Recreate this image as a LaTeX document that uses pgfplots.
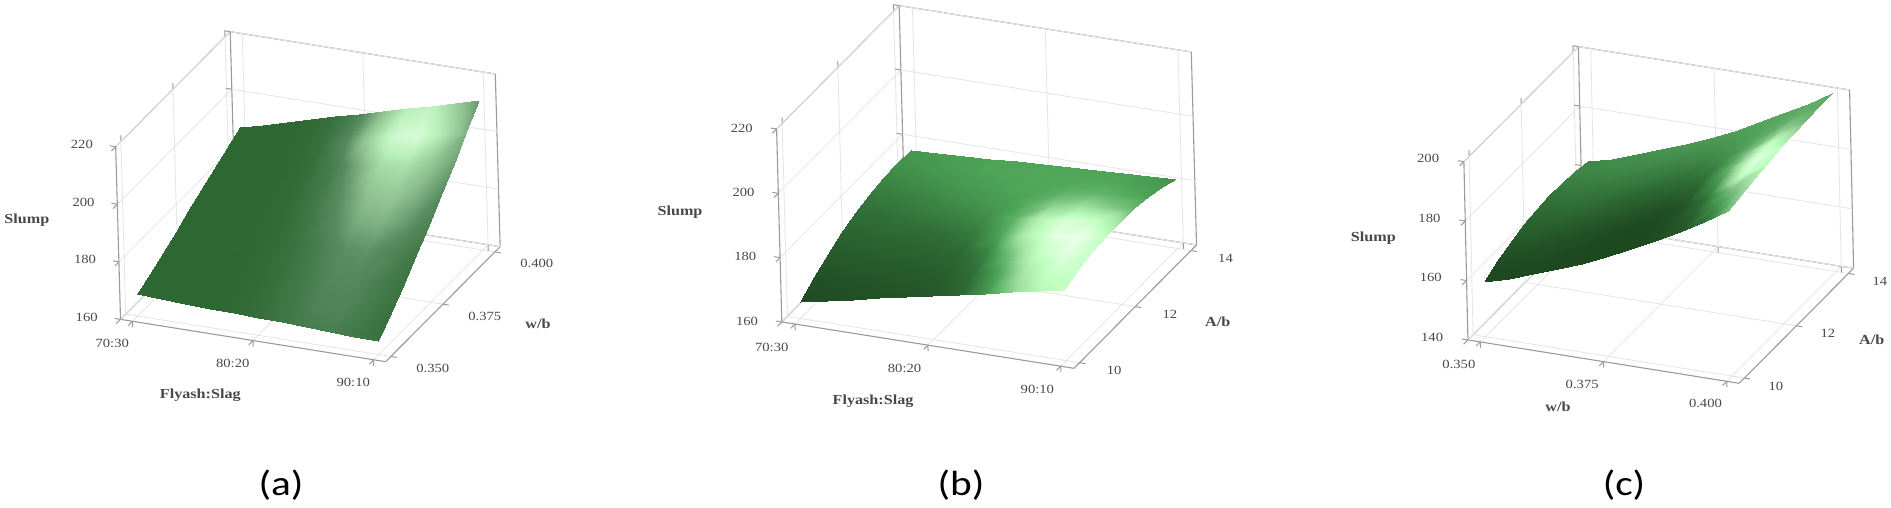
\documentclass[border=0pt]{standalone}
\usepackage{pgfplots}
\usepackage{fontspec}
\pgfplotsset{compat=1.18}
\setmainfont{Liberation Serif}
\newfontfamily\tickf[FakeStretch=1.17]{Liberation Serif}
\newfontfamily\capf[FakeStretch=1.18]{Carlito}
\definecolor{boxc}{HTML}{9A9A9A}
\definecolor{gridc}{HTML}{E6E6E6}
\definecolor{txtc}{HTML}{484848}
\pgfplotsset{
  panel/.style={
    clip=false, grid=major, grid style={gridc,line width=0.9pt},
    axis line style={boxc,line width=1.1pt},
    tick style={boxc,line width=1pt}, major tick length=6pt, tick align=outside,
    xtick pos=left, ytick pos=right, ztick pos=left, yticklabel pos=left,
    ticklabel style={font=\fontsize{12.5}{14}\tickf, text=txtc},
    label style={font=\fontsize{13.8}{15}\tickf\bfseries, text=txtc, anchor=center},
    point meta min=0, point meta max=1,
  },
  surfstyle/.style={surf, shader=interp, mesh/cols=11, point meta=explicit},
}
\begin{document}
\begin{tikzpicture}
\path[use as bounding box] (0,0) rectangle (1891pt,507pt);
% ---------- (a)
\begin{axis}[panel, at={(115.7pt,145.3pt)}, anchor=south west,
  x={(12.05pt,-1.924pt)}, y={(2082pt,2091pt)}, z={(-0.0803pt,2.878pt)},
  xmin=69,xmax=91,ymin=0.3475,ymax=0.4025,zmin=160,zmax=220,
  xtick={70,80,90},xticklabels={70:30,80:20,90:10},
  ytick={0.35,0.375,0.4},yticklabels={0.350,0.375,0.400},
  ztick={160,180,200,220},zticklabels={160,180,200,220},
  x tick label style={xshift=-12pt,yshift=-8pt},
  y tick label style={xshift=23pt,yshift=4pt},
  z tick label style={xshift=-15pt,yshift=11pt},
  xlabel={Flyash:Slag},ylabel={w/b},zlabel={Slump},
  x label style={at={(rel axis cs:0.507,-0.477,0)}},
  y label style={at={(rel axis cs:1.372,0.470,0)}},
  z label style={at={(rel axis cs:-0.339,-0.012,0.5)},rotate=-90},
  colormap={ca}{rgb255(0)=(45,103,50); rgb255(30)=(88,140,96); rgb255(50)=(141,191,144); rgb255(75)=(184,238,184); rgb255(100)=(222,255,222)},
]
\addplot3[surfstyle] table[row sep=\\, x=x,y=y,z=z,meta=m]{
x y z m\\
70 0.35 167.5 0\\72 0.35 167.2 0\\74 0.35 166.9 0\\76 0.35 166.6 0\\78 0.35 166.3 0.02\\80 0.35 166.1 0.06\\82 0.35 165.8 0.12\\84 0.35 165.5 0.19\\86 0.35 165.2 0.20\\88 0.35 164.9 0.14\\90 0.35 164.6 0.08\\
70 0.35625 170.2 0\\72 0.35625 170.2 0\\74 0.35625 170.1 0\\76 0.35625 170.1 0\\78 0.35625 170.0 0.02\\80 0.35625 170.0 0.07\\82 0.35625 170.0 0.15\\84 0.35625 169.9 0.24\\86 0.35625 169.9 0.25\\88 0.35625 169.8 0.18\\90 0.35625 169.8 0.08\\
70 0.3625 172.9 0\\72 0.3625 173.2 0\\74 0.3625 173.4 0\\76 0.3625 173.7 0\\78 0.3625 173.9 0.03\\80 0.3625 174.2 0.08\\82 0.3625 174.4 0.17\\84 0.3625 174.7 0.27\\86 0.3625 174.9 0.28\\88 0.3625 175.2 0.20\\90 0.3625 175.4 0.10\\
70 0.36875 175.6 0\\72 0.36875 176.1 0\\74 0.36875 176.7 0\\76 0.36875 177.2 0.01\\78 0.36875 177.8 0.03\\80 0.36875 178.3 0.10\\82 0.36875 178.8 0.20\\84 0.36875 179.4 0.31\\86 0.36875 179.9 0.33\\88 0.36875 180.5 0.25\\90 0.36875 181.0 0.14\\
70 0.375 178.4 0\\72 0.375 179.3 0\\74 0.375 180.1 0\\76 0.375 181.0 0.01\\78 0.375 181.8 0.04\\80 0.375 182.7 0.13\\82 0.375 183.5 0.28\\84 0.375 184.4 0.43\\86 0.375 185.2 0.45\\88 0.375 186.1 0.36\\90 0.375 186.9 0.22\\
70 0.38125 181.1 0\\72 0.38125 182.3 0\\74 0.38125 183.5 0\\76 0.38125 184.6 0.01\\78 0.38125 185.8 0.05\\80 0.38125 187.0 0.16\\82 0.38125 188.2 0.34\\84 0.38125 189.4 0.52\\86 0.38125 190.5 0.55\\88 0.38125 191.7 0.45\\90 0.38125 192.9 0.30\\
70 0.3875 183.8 0\\72 0.3875 185.3 0\\74 0.3875 186.9 0\\76 0.3875 188.4 0.01\\78 0.3875 189.9 0.06\\80 0.3875 191.5 0.20\\82 0.3875 193.0 0.42\\84 0.3875 194.5 0.65\\86 0.3875 196.0 0.68\\88 0.3875 197.6 0.54\\90 0.3875 199.1 0.38\\
70 0.39375 186.5 0\\72 0.39375 188.4 0\\74 0.39375 190.3 0\\76 0.39375 192.2 0.02\\78 0.39375 194.1 0.09\\80 0.39375 196.0 0.28\\82 0.39375 197.9 0.60\\84 0.39375 199.8 0.90\\86 0.39375 201.7 0.95\\88 0.39375 203.6 0.72\\90 0.39375 205.5 0.45\\
70 0.4 189.2 0\\72 0.4 191.5 0\\74 0.4 193.8 0\\76 0.4 196.1 0.02\\78 0.4 198.4 0.08\\80 0.4 200.7 0.24\\82 0.4 202.9 0.50\\84 0.4 205.2 0.75\\86 0.4 207.5 0.80\\88 0.4 209.8 0.58\\90 0.4 212.1 0.35\\
};
\end{axis}
% ---------- (b)
\begin{axis}[panel, at={(776.6pt,138.7pt)}, anchor=south west,
  x={(13.28pt,-2.106pt)}, y={(27.85pt,28.03pt)}, z={(-0.087pt,3.217pt)},
  xmin=69,xmax=91,ymin=9.8,ymax=14.2,zmin=160,zmax=220,
  xtick={70,80,90},xticklabels={70:30,80:20,90:10},
  ytick={10,12,14},yticklabels={10,12,14},
  ztick={160,180,200,220},zticklabels={160,180,200,220},
  x tick label style={xshift=-15pt,yshift=-9pt},
  y tick label style={xshift=20pt,yshift=3pt},
  z tick label style={xshift=-16pt,yshift=10pt},
  xlabel={Flyash:Slag},ylabel={A/b},zlabel={Slump},
  x label style={at={(rel axis cs:0.504,-0.457,0)}},
  y label style={at={(rel axis cs:1.288,0.486,0)}},
  z label style={at={(rel axis cs:-0.332,-0.018,0.5)},rotate=-90},
  colormap={cb}{rgb255(0)=(31,74,34); rgb255(15)=(47,109,54); rgb255(35)=(78,165,88); rgb255(60)=(159,224,160); rgb255(80)=(192,255,192); rgb255(100)=(236,255,236)},
]
\addplot3[surfstyle] table[row sep=\\, x=x,y=y,z=z,meta=m]{
x y z m\\
70 10 165.1 .00\\72 10 166.8 .01\\74 10 168.5 .02\\76 10 170.2 .03\\78 10 171.9 .04\\80 10 173.6 .06\\82 10 175.2 .12\\84 10 176.9 .30\\86 10 178.6 .55\\88 10 180.3 .75\\90 10 182.0 .82\\
70 10.5 168.4 .03\\72 10.5 169.9 .04\\74 10.5 171.5 .05\\76 10.5 173.0 .06\\78 10.5 174.5 .07\\80 10.5 176.1 .09\\82 10.5 177.6 .15\\84 10.5 179.1 .35\\86 10.5 180.6 .65\\88 10.5 182.2 .85\\90 10.5 183.7 .85\\
70 11 171.2 .07\\72 11 172.6 .08\\74 11 173.9 .09\\76 11 175.3 .10\\78 11 176.7 .11\\80 11 178.1 .13\\82 11 179.4 .22\\84 11 180.8 .50\\86 11 182.2 .82\\88 11 183.5 .95\\90 11 184.9 .85\\
70 11.5 173.5 .11\\72 11.5 174.7 .12\\74 11.5 175.9 .13\\76 11.5 177.1 .14\\78 11.5 178.3 .16\\80 11.5 179.6 .20\\82 11.5 180.8 .35\\84 11.5 182.0 .70\\86 11.5 183.2 .95\\88 11.5 184.4 1.0\\90 11.5 185.6 .80\\
70 12 175.4 .15\\72 12 176.4 .16\\74 12 177.5 .18\\76 12 178.5 .20\\78 12 179.6 .23\\80 12 180.6 .27\\82 12 181.6 .40\\84 12 182.7 .72\\86 12 183.7 .92\\88 12 184.8 .85\\90 12 185.8 .62\\
70 12.5 176.7 .19\\72 12.5 177.6 .21\\74 12.5 178.5 .23\\76 12.5 179.3 .26\\78 12.5 180.2 .29\\80 12.5 181.1 .32\\82 12.5 182.0 .38\\84 12.5 182.9 .52\\86 12.5 183.7 .60\\88 12.5 184.6 .52\\90 12.5 185.5 .42\\
70 13 177.5 .24\\72 13 178.2 .26\\74 13 178.9 .28\\76 13 179.7 .31\\78 13 180.4 .33\\80 13 181.1 .35\\82 13 181.8 .36\\84 13 182.5 .40\\86 13 183.3 .42\\88 13 184.0 .38\\90 13 184.7 .34\\
70 13.5 177.8 .28\\72 13.5 178.4 .30\\74 13.5 178.9 .32\\76 13.5 179.5 .34\\78 13.5 180.0 .35\\80 13.5 180.6 .36\\82 13.5 181.2 .36\\84 13.5 181.7 .36\\86 13.5 182.3 .36\\88 13.5 182.8 .34\\90 13.5 183.4 .31\\
70 14 177.6 .30\\72 14 178.0 .32\\74 14 178.4 .33\\76 14 178.8 .34\\78 14 179.2 .35\\80 14 179.6 .35\\82 14 180.0 .35\\84 14 180.4 .35\\86 14 180.8 .34\\88 14 181.2 .32\\90 14 181.6 .28\\
};
\end{axis}
% ---------- (c)
\begin{axis}[panel, at={(1463.9pt,123.7pt)}, anchor=south west,
  x={(4931pt,-788pt)}, y={(26.02pt,26.14pt)}, z={(-0.067pt,2.972pt)},
  xmin=0.3475,xmax=0.4025,ymin=9.8,ymax=14.2,zmin=140,zmax=200,
  xtick={0.35,0.375,0.4},xticklabels={0.350,0.375,0.400},
  ytick={10,12,14},yticklabels={10,12,14},
  ztick={140,160,180,200},zticklabels={140,160,180,200},
  x tick label style={xshift=-13pt,yshift=-8pt},
  y tick label style={xshift=17pt,yshift=3pt},
  z tick label style={xshift=-17pt,yshift=12pt},
  xlabel={w/b},ylabel={A/b},zlabel={Slump},
  x label style={at={(rel axis cs:0.499,-0.395,0)}},
  y label style={at={(rel axis cs:1.285,0.483,0)}},
  z label style={at={(rel axis cs:-0.334,-0.017,0.5)},rotate=-90},
  colormap={cc}{rgb255(0)=(30,72,32); rgb255(15)=(47,109,54); rgb255(35)=(79,159,88); rgb255(60)=(159,216,160); rgb255(80)=(192,255,192); rgb255(100)=(232,255,232)},
]
\addplot3[surfstyle] table[row sep=\\, x=x,y=y,z=z,meta=m]{
x y z m\\
.350 10 158.5 .00\\.355 10 160.9 .00\\.360 10 163.7 .00\\.365 10 166.7 .00\\.370 10 169.9 .00\\.375 10 173.6 .00\\.380 10 177.4 .00\\.385 10 181.6 .02\\.390 10 186.0 .05\\.395 10 190.6 .15\\.400 10 195.6 .50\\
.350 10.5 161.0 .02\\.355 10.5 163.3 .02\\.360 10.5 165.9 .02\\.365 10.5 168.8 .01\\.370 10.5 171.8 .00\\.375 10.5 175.3 .00\\.380 10.5 179.0 .00\\.385 10.5 183.0 .03\\.390 10.5 187.3 .10\\.395 10.5 191.7 .30\\.400 10.5 196.6 .58\\
.350 11 162.8 .06\\.355 11 165.0 .06\\.360 11 167.6 .05\\.365 11 170.3 .04\\.370 11 173.3 .03\\.375 11 176.7 .02\\.380 11 180.3 .02\\.385 11 184.3 .04\\.390 11 188.4 .16\\.395 11 192.8 .48\\.400 11 197.6 .68\\
.350 11.5 164.3 .10\\.355 11.5 166.4 .11\\.360 11.5 168.9 .10\\.365 11.5 171.6 .09\\.370 11.5 174.5 .08\\.375 11.5 177.8 .07\\.380 11.5 181.3 .07\\.385 11.5 185.2 .10\\.390 11.5 189.3 .32\\.395 11.5 193.6 .85\\.400 11.5 198.3 .78\\
.350 12 165.2 .14\\.355 12 167.3 .15\\.360 12 169.8 .15\\.365 12 172.4 .14\\.370 12 175.3 .13\\.375 12 178.6 .13\\.380 12 182.1 .14\\.385 12 186.0 .18\\.390 12 190.0 .45\\.395 12 194.3 .98\\.400 12 199.0 .80\\
.350 12.5 165.6 .18\\.355 12.5 167.7 .19\\.360 12.5 170.2 .19\\.365 12.5 172.8 .19\\.370 12.5 175.7 .19\\.375 12.5 179.0 .19\\.380 12.5 182.5 .20\\.385 12.5 186.4 .26\\.390 12.5 190.4 .45\\.395 12.5 194.7 .85\\.400 12.5 199.4 .62\\
.350 13 165.5 .22\\.355 13 167.6 .23\\.360 13 170.2 .24\\.365 13 172.9 .24\\.370 13 175.9 .24\\.375 13 179.2 .25\\.380 13 182.7 .27\\.385 13 186.7 .32\\.390 13 190.8 .40\\.395 13 195.2 .55\\.400 13 199.9 .45\\
.350 13.5 164.9 .25\\.355 13.5 167.1 .26\\.360 13.5 169.7 .27\\.365 13.5 172.6 .28\\.370 13.5 175.6 .29\\.375 13.5 179.0 .30\\.380 13.5 182.6 .32\\.385 13.5 186.6 .35\\.390 13.5 190.9 .38\\.395 13.5 195.3 .42\\.400 13.5 200.0 .40\\
.350 14 163.8 .25\\.355 14 166.1 .27\\.360 14 168.8 .29\\.365 14 171.8 .30\\.370 14 174.9 .32\\.375 14 178.4 .33\\.380 14 182.1 .35\\.385 14 186.2 .37\\.390 14 190.6 .38\\.395 14 195.1 .40\\.400 14 200.0 .40\\
};
\end{axis}
\node[font=\fontsize{35}{40}\capf, text=black] at (281pt,22pt) {(a)};
\node[font=\fontsize{35}{40}\capf, text=black] at (961pt,22pt) {(b)};
\node[font=\fontsize{35}{40}\capf, text=black] at (1624pt,22pt) {(c)};
\end{tikzpicture}
\end{document}
